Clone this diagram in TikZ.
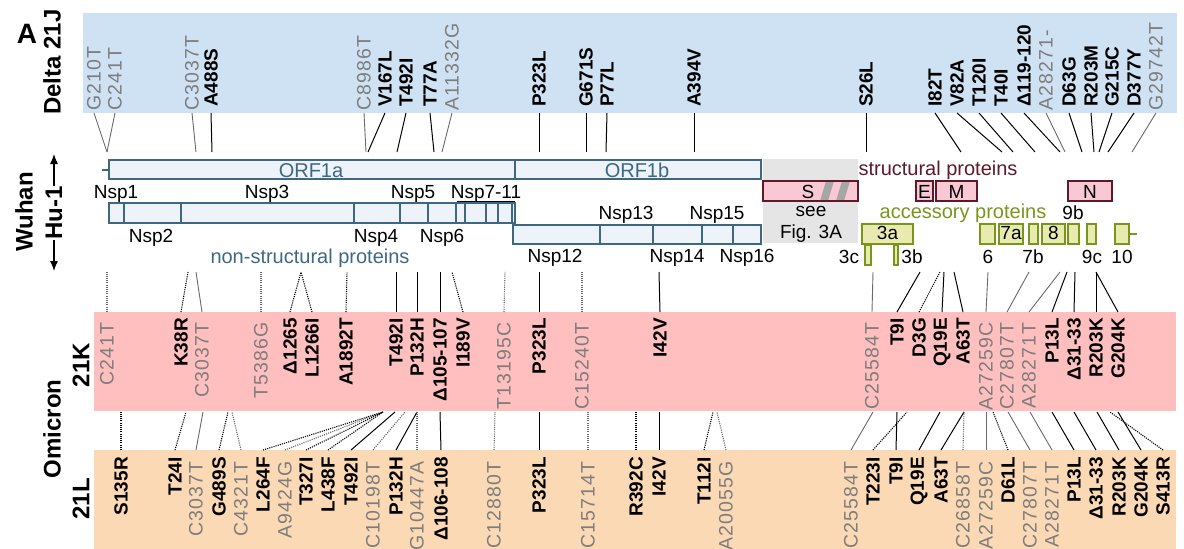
\documentclass[tikz,border=0pt]{standalone}
\usepackage{fontspec}
\setmainfont{Liberation Sans}
\usetikzlibrary{arrows.meta}

\definecolor{deltafond}{RGB}{207,226,243}
\definecolor{kfond}{RGB}{255,191,191}
\definecolor{lfond}{RGB}{252,217,181}
\definecolor{nspbleu}{RGB}{62,104,130}
\definecolor{nspfond}{RGB}{237,243,248}
\definecolor{strucrouge}{RGB}{94,26,42}
\definecolor{strucfond}{RGB}{248,200,212}
\definecolor{accvert}{RGB}{120,150,28}
\definecolor{accfond}{RGB}{232,234,176}
\definecolor{grismut}{RGB}{125,125,125}
\definecolor{grislien}{RGB}{105,105,105}
\definecolor{grisS}{RGB}{229,229,229}

\tikzset{
  bande/.style={anchor=north west, inner sep=0pt, outer sep=0pt},
  labb/.style={rotate=90, inner sep=0pt, font=\fontsize{19}{19}\selectfont\bfseries},
  labg/.style={yshift=-4pt, rotate=90, inner sep=0pt, text=grismut,
    font=\fontsize{19.5}{19}\selectfont\addfontfeatures{LetterSpace=6}},
  conb/.style={line width=1pt},
  cong/.style={line width=0.9pt, grislien},
  ptb/.style={line width=1.1pt, dash pattern=on 1.1pt off 1.1pt},
  ptg/.style={line width=1.1pt, dash pattern=on 1.1pt off 1.1pt, grislien},
  gen/.style={font=\fontsize{19}{19}\selectfont, inner sep=0pt, anchor=base},
  cat/.style={font=\fontsize{20}{20}\selectfont, inner sep=0pt, anchor=base},
  titre/.style={font=\fontsize{24}{24}\selectfont\bfseries, inner sep=0pt},
  orfbox/.style={draw=nspbleu, fill=nspfond, line width=1.2pt},
  strucbox/.style={draw=strucrouge, fill=strucfond, line width=1.2pt},
  accbox/.style={draw=accvert, fill=accfond, line width=1.2pt},
  fleche/.style={line width=1.2pt, -{Latex[length=10pt,width=8pt]}}
}

\begin{document}
\begin{tikzpicture}[x=1pt,y=-1pt]
\useasboundingbox (0,0) rectangle (1184,549);

% Bandes
\node[bande, fill=deltafond, minimum width=1094pt, minimum height=100pt] (dband) at (83,13) {};
\node[bande, fill=kfond, minimum width=1082pt, minimum height=99pt] (kband) at (94,312) {};
\node[bande, fill=lfond, minimum width=1082pt, minimum height=99pt] (lband) at (94,450) {};

% Titres
\node[titre, anchor=base, font=\fontsize{28}{28}\selectfont\bfseries] (lettre) at (27,43) {A};
\node[titre, rotate=90] (delta) at (52,62) {Delta 21J};
\node[titre, rotate=90] (wuhan) at (24,212) {Wuhan};
\node[titre, rotate=90] (hu) at (54,213) {Hu-1};
\draw[fleche] (hu.east) -- (54,154);
\draw[fleche] (hu.west) -- (54,271);
\node[titre, rotate=90] (omicron) at (52,429) {Omicron};
\node[titre, rotate=90] (nomK) at (81,365) {21K};
\node[titre, rotate=90] (nomL) at (81,499) {21L};

% ORF1a / ORF1b
\draw[nspbleu, line width=1.2pt] (102,170) -- (109,170);
\draw[orfbox] (109,160) rectangle (515,179);
\draw[orfbox] (515,160) rectangle (761,179);
\node[cat, text=nspbleu] (orfa) at (311,177) {ORF1a};
\node[cat, text=nspbleu] (orfb) at (637,177) {ORF1b};

% Nsp
\draw[orfbox] (109,203) rectangle (515,223);
\foreach \x in {124,181,354,400,428,456,465,486,498,512}
  \draw[nspbleu, line width=1.5pt] (\x,203) -- (\x,223);
\draw[orfbox] (513,225) rectangle (761,244);
\foreach \x in {600,653,702,733}
  \draw[nspbleu, line width=1.5pt] (\x,225) -- (\x,244);
\draw[line width=1pt] (457,201) -- (515,201);
\foreach \x/\y/\t [count=\i] in {116/198/Nsp1, 267/198/Nsp3, 413/198/Nsp5, 486/198/Nsp7-11,
  151/242/Nsp2, 376/242/Nsp4, 442/242/Nsp6, 626/219/Nsp13, 717/219/Nsp15,
  555/262/Nsp12, 677/262/Nsp14, 747/262/Nsp16}
  \node[gen] (nsp\i) at (\x,\y) {\t};
\node[cat, text=nspbleu] (nonstruc) at (310,263) {non-structural proteins};

% Spike (voir Fig. 3A)
\fill[grisS] (763,159) rectangle (858,243);
\begin{scope}
  \clip (763,181) rectangle (858,201);
  \fill[strucfond] (763,181) rectangle (858,201);
  \foreach \x in {820,836}
    \fill[gray!70] (\x,201) -- (\x+6,181) -- (\x+14,181) -- (\x+8,201) -- cycle;
\end{scope}
\draw[strucrouge, line width=1.2pt] (763,181) rectangle (858,201);
\node[gen] (spike) at (808,198) {S};
\node[gen] (see) at (811,216) {see};
\node[gen] (fig) at (811,238) {Fig. 3A};

% Proteines structurales
\node[cat, text=strucrouge] (struc) at (938,175) {structural proteins};
\draw[strucbox] (916,181) rectangle (933,201);
\draw[strucbox] (936,181) rectangle (977,201);
\draw[strucbox] (1068,181) rectangle (1112,201);
\node[gen] (env) at (924.5,198) {E};
\node[gen] (mem) at (956.5,198) {M};
\node[gen] (nuc) at (1090,198) {N};

% Proteines accessoires
\node[cat, text=accvert] (acc) at (963,218) {accessory proteins};
\foreach \a/\b in {862/913, 980/995, 999/1023, 1029/1038, 1042/1065, 1068/1079, 1087/1096, 1115/1129}
  \draw[accbox] (\a,224) rectangle (\b,244);
\draw[accbox] (865,245) rectangle (871,265);
\draw[accbox] (894,245) rectangle (898,265);
\draw[accvert, line width=1.2pt] (1129,234) -- (1137,234);
\foreach \x/\y/\t [count=\i] in {887.5/239/3a, 1011/239/7a, 1053.5/239/8, 1073/219/9b,
  849/263/3c, 912/263/3b, 988/263/6, 1033/263/7b, 1092/263/9c, 1122/263/10}
  \node[gen] (orf\i) at (\x,\y) {\t};

% Delta 21J
\foreach \x/\g/\s/\t [count=\i] in {
  94/107/g/G210T, 115/107/g/C241T, 192/196/g/C3037T, 211/212/b/A488S,
  364/366/g/C8986T, 385/368/b/V167L, 406/397/b/T492I, 430/434/b/T77A,
  452/442/g/A11332G, 539/539/b/P323L, 586/586/b/G671S, 607/606/b/P77L,
  694/694/b/A394V, 866/866/b/S26L, 935/961/b/I82T, 957/1002/b/V82A,
  979/1013/b/T120I, 1001/1035/b/T40I, 1024/1060/b/Δ119-120, 1046/1065/g/A28271-,
  1069/1082/b/D63G, 1091/1094/b/R203M, 1112/1099/b/G215C, 1134/1108/b/D377Y,
  1156/1132/g/G29742T}
{
  \node[lab\s, anchor=west] (dj\i) at (\x,107) {\t};
  \draw[con\s] (dj\i |- dband.south) -- (\g,152) coordinate (dg\i);
}

% Omicron 21K
\foreach \x/\g/\s/\l/\t [count=\i] in {
  107/107/g/pt/C241T, 181/188/b/pt/K38R, 202/196/g/con/C3037T, 261/261/g/pt/T5386G,
  290/301/b/pt/Δ1265, 312/301/b/pt/L1266I, 346/347/b/pt/A1892T, 396/396/b/con/T492I,
  417/417/b/con/P132H, 440/440/b/con/Δ105-107, 463/452/b/pt/I189V, 504/505/g/pt/T13195C,
  539/539/b/con/P323L, 582/582/g/pt/C15240T, 660/659/b/con/I42V, 872/873/g/con/C25584T,
  897/920/b/con/T9I, 919/940/b/pt/D3G, 942/944/b/con/Q19E, 963/954/b/con/A63T,
  986/988/g/con/A27259C, 1007/1029/g/con/C27807T, 1029/1060/g/con/A28271T, 1052/1067/b/con/P13L,
  1074/1075/b/con/Δ31-33, 1096/1096/b/con/R203K, 1118/1096/b/con/G204K}
{
  \node[lab\s, anchor=east] (ok\i) at (\x,318) {\t};
  \draw[\l\s] (ok\i |- kband.north) -- (\g,272) coordinate (kg\i);
}

% Omicron 21L
\foreach \x/\g/\s/\l/\t [count=\i] in {
  121/121/b/pt/S135R, 175/186/b/pt/T24I, 196/203/g/con/C3037T, 219/228/b/pt/G489S,
  241/232/g/pt/C4321T, 263/383/b/pt/L264F, 285/383/g/pt/A9424G, 306/383/b/pt/T327I,
  328/383/b/pt/L438F, 351/395/b/con/T492I, 373/405/g/pt/C10198T, 396/417/b/con/P132H,
  417/417/g/pt/G10447A, 441/440/b/con/Δ106-108, 494/495/g/pt/C12880T, 539/539/b/con/P323L,
  588/588/g/pt/C15714T, 636/636/b/pt/R392C, 659/659/b/con/I42V, 704/713/b/pt/T112I,
  726/717/g/pt/A20055G, 851/873/g/con/C25584T, 873/907/b/pt/T223I, 896/897/b/con/T9I,
  919/940/b/con/Q19E, 941/964/b/con/A63T, 963/964/g/pt/C26858T, 986/986/g/con/A27259C,
  1008/993/b/pt/D61L, 1030/1008/g/con/C27807T, 1052/1030/g/con/A28271T, 1074/1052/b/con/P13L,
  1096/1074/b/con/Δ31-33, 1119/1097/b/con/R203K, 1141/1118/b/con/G204K, 1163/1110/b/pt/S413R}
{
  \node[lab\s, anchor=east] (ol\i) at (\x,457) {\t};
  \draw[\l\s] (ol\i |- lband.north) -- (\g,412) coordinate (lg\i);
}

\end{tikzpicture}
\end{document}
